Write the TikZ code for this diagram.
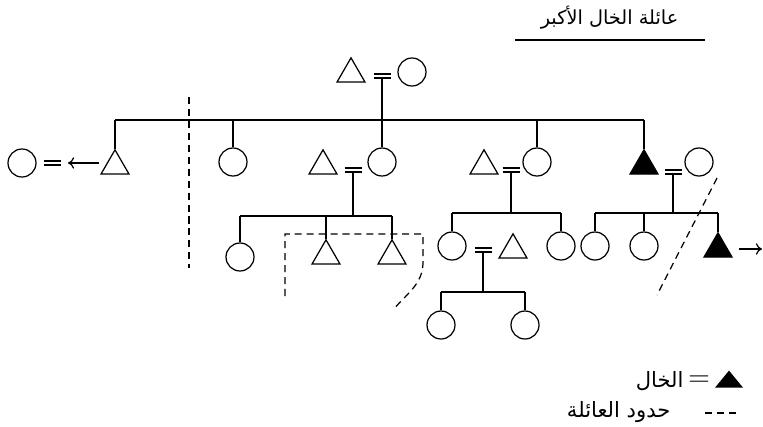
\documentclass[tikz,border=0pt]{standalone}
\usepackage{fontspec}
\usepackage{tikz}
\usetikzlibrary{shapes.geometric,arrows.meta,calc}
\newfontfamily\arabicfont[Script=Arabic]{DejaVu Sans}
\TeXXeTstate=1

% marriage sign: two short bars, the coordinate #1 sits on the lower bar
\newcommand{\marr}[3]{%
  \coordinate (#1) at (#2,#3);
  \draw ($(#1)+(-8.5,0)$) -- ($(#1)+(8.5,0)$);
  \draw ($(#1)+(-8.5,-4)$) -- ($(#1)+(8.5,-4)$);
}

\begin{document}
\begin{tikzpicture}[
    x=0.02cm, y=-0.02cm,
    line width=0.7pt,
    fem/.style={circle, draw, minimum size=0.56cm, inner sep=0pt},
    male/.style={regular polygon, regular polygon sides=3, draw,
                 minimum size=0.647cm, inner sep=0pt, yshift=-0.08cm},
    uncle/.style={male, fill=black},
    keytri/.style={isosceles triangle, shape border rotate=90,
                   isosceles triangle stretches, fill=black, inner sep=0pt,
                   minimum width=0.56cm, minimum height=0.34cm},
    famline/.style={dash pattern=on 4pt off 2.8pt},
    arr/.style={-{To[length=3.5pt,width=6.5pt]}},
    lbl/.style={font=\arabicfont\fontsize{11}{13}\selectfont, inner sep=0pt},
    keylbl/.style={lbl, font=\arabicfont\fontsize{12}{14}\selectfont}
]
\useasboundingbox (0,0) rectangle (763,426);

% title
\node[lbl, anchor=east] (title) at (679,18) {\beginR عائلة الخال الأكبر\endR};
\draw (515,40) -- (705,40);

% grandparents
\node[male] (gf) at (351,70) {};
\node[fem]  (gm) at (412,72) {};
\marr{m0}{382}{78}
\coordinate (j0) at (382,120);

% their children
\node[male]  (u1) at (115,162) {};
\node[fem]   (d2) at (233,162) {};
\node[fem]   (d3) at (382,162) {};
\node[fem]   (d4) at (537,162) {};
\node[uncle] (u5) at (644,162) {};

\draw (m0) -- (j0);
\draw (u1.north |- j0) -- (u5.north |- j0);
\foreach \k in {u1,d2,d3,d4,u5}
    \draw (\k.north |- j0) -- (\k.north);

% first son marries out
\node[fem] (w1) at (22,163) {};
\marr{m5}{52}{165}
\draw[arr] ($(u1.west |- w1)+(-5.5,0)$) -- ($(m5 |- w1)+(16,0)$);

% third child
\node[male] (h3) at (323,162) {};
\marr{m1}{353}{172}
\coordinate (j1) at (353,216);
\node[fem]  (c31) at (240,257) {};
\node[male] (c32) at (326,252) {};
\node[male] (c33) at (392,252) {};
\draw (m1) -- (j1);
\draw (c31.north |- j1) -- (c33.north |- j1);
\foreach \k in {c31,c32,c33}
    \draw (\k.north |- j1) -- (\k.north);

% fourth child
\node[male] (h4) at (484,162) {};
\marr{m2}{511}{172}
\coordinate (j2) at (511,213);
\node[fem]  (c41) at (452,246) {};
\node[fem]  (c42) at (561,246) {};
\draw (m2) -- (j2);
\draw (c41.north |- j2) -- (c42.north |- j2);
\foreach \k in {c41,c42}
    \draw (\k.north |- j2) -- (\k.north);

\node[male] (h41) at (513,246) {};
\marr{m4}{483}{252}
\coordinate (j4) at (483,292);
\node[fem] (c411) at (441,325) {};
\node[fem] (c412) at (525,325) {};
\draw (m4) -- (j4);
\draw (c411.north |- j4) -- (c412.north |- j4);
\foreach \k in {c411,c412}
    \draw (\k.north |- j4) -- (\k.north);

% the uncle
\node[fem] (w5) at (699,162) {};
\marr{m3}{673}{174}
\coordinate (j3) at (673,213);
\node[fem]   (c51) at (595,246) {};
\node[fem]   (c52) at (644,246) {};
\node[uncle] (c53) at (718,245) {};
\draw (m3) -- (j3);
\draw (c51.north |- j3) -- (c53.north |- j3);
\foreach \k in {c51,c52,c53}
    \draw (\k.north |- j3) -- (\k.north);
\coordinate (out) at (762,247);
\draw[arr] ($(c53.east)+(11,0)$) -- (c53.east -| out);

% family boundaries
\draw[famline] (189,97) -- (189,268);
\draw[famline] (285,296) -- (285,234) -- (423,234) -- (423,262)
    to[out=-90,in=50] (393,310);
\draw[famline] (717,178) -- (657,295);

% key
\node[keytri] (key1) at (729,381) {};
\node[inner sep=0pt, font=\fontsize{17}{17}\selectfont] (keyeq) at (699,381) {=};
\node[keylbl, anchor=east] (key1t) at (684,381) {\beginR الخال\endR};
\draw[famline] (705,413) -- (736,413);
\node[keylbl, anchor=east] (key2t) at (671,412) {\beginR حدود العائلة\endR};
\end{tikzpicture}
\end{document}
